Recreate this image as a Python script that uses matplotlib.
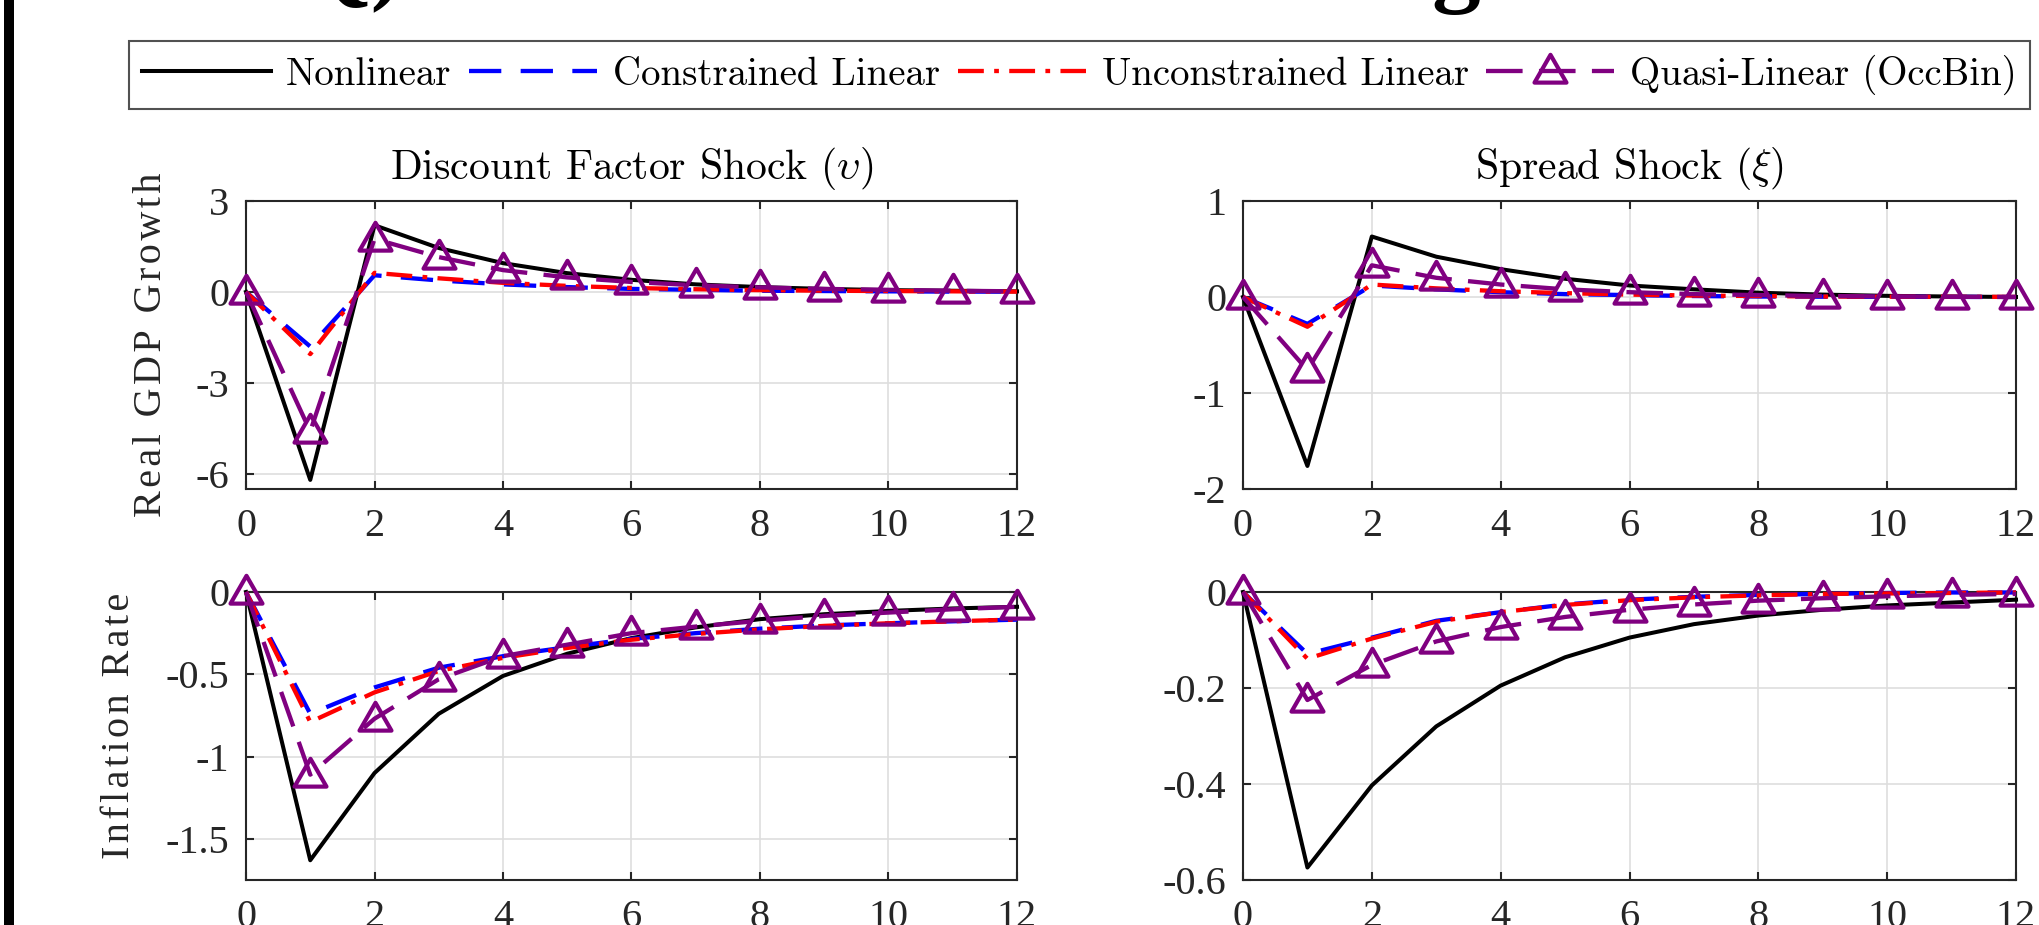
import matplotlib
matplotlib.use('Agg')
import matplotlib.pyplot as plt
from matplotlib.patches import Rectangle
from matplotlib.path import Path
from matplotlib.lines import Line2D

# ---------------- data ----------------
periods = list(range(13))

series_names = ["Nonlinear", "Constrained Linear", "Unconstrained Linear", "Quasi-Linear (OccBin)"]

col_titles = [r"Discount Factor Shock ($\upsilon$)", r"Spread Shock ($\xi$)"]
row_labels = ["Real GDP Growth", "Inflation Rate"]

# Real GDP growth, discount factor shock
nl_gdp_d = [0, -6.2, 2.2, 1.45, 0.95, 0.62, 0.40, 0.25, 0.16, 0.10, 0.06, 0.04, 0.02]
cl_gdp_d = [0, -1.8, 0.55, 0.38, 0.25, 0.16, 0.10, 0.07, 0.04, 0.03, 0.02, 0.01, 0.01]
ul_gdp_d = [0, -2.05, 0.63, 0.45, 0.30, 0.20, 0.13, 0.09, 0.06, 0.04, 0.03, 0.02, 0.01]
ql_gdp_d = [0, -4.6, 1.75, 1.15, 0.72, 0.48, 0.33, 0.22, 0.15, 0.10, 0.07, 0.04, 0.02]

# Real GDP growth, spread shock
nl_gdp_s = [0, -1.76, 0.63, 0.42, 0.29, 0.19, 0.12, 0.08, 0.045, 0.025, 0.012, 0.005, 0.0]
cl_gdp_s = [0, -0.28, 0.12, 0.08, 0.05, 0.03, 0.02, 0.01, 0.005, 0.003, 0.002, 0.001, 0.0]
ul_gdp_s = [0, -0.31, 0.13, 0.09, 0.06, 0.04, 0.025, 0.015, 0.01, 0.005, 0.003, 0.002, 0.001]
ql_gdp_s = [0, -0.76, 0.33, 0.20, 0.13, 0.08, 0.05, 0.03, 0.02, 0.01, 0.005, 0.002, 0.0]

# Inflation, discount factor shock
nl_inf_d = [0, -1.63, -1.10, -0.74, -0.51, -0.375, -0.28, -0.215, -0.165, -0.135, -0.115, -0.10, -0.09]
cl_inf_d = [0, -0.74, -0.58, -0.46, -0.39, -0.335, -0.285, -0.25, -0.223, -0.203, -0.19, -0.178, -0.168]
ul_inf_d = [0, -0.79, -0.61, -0.48, -0.40, -0.34, -0.29, -0.255, -0.227, -0.206, -0.19, -0.178, -0.167]
ql_inf_d = [0, -1.11, -0.77, -0.53, -0.39, -0.32, -0.25, -0.21, -0.175, -0.145, -0.125, -0.105, -0.09]

# Inflation, spread shock
nl_inf_s = [0, -0.574, -0.403, -0.28, -0.195, -0.136, -0.095, -0.067, -0.049, -0.037, -0.028, -0.022, -0.016]
cl_inf_s = [0, -0.129, -0.095, -0.06, -0.042, -0.026, -0.016, -0.01, -0.006, -0.004, -0.002, -0.001, -0.001]
ul_inf_s = [0, -0.139, -0.097, -0.062, -0.042, -0.027, -0.017, -0.011, -0.007, -0.004, -0.003, -0.002, -0.001]
ql_inf_s = [0, -0.225, -0.152, -0.103, -0.073, -0.052, -0.037, -0.026, -0.018, -0.013, -0.009, -0.006, -0.004]

x_ticks = [0, 2, 4, 6, 8, 10, 12]
y_ticks = {
    (0, 0): ([-6, -3, 0, 3], ["-6", "-3", "0", "3"], (-6.5, 3)),
    (0, 1): ([-2, -1, 0, 1], ["-2", "-1", "0", "1"], (-2, 1)),
    (1, 0): ([-1.5, -1, -0.5, 0], ["-1.5", "-1", "-0.5", "0"], (-1.75, 0)),
    (1, 1): ([-0.6, -0.4, -0.2, 0], ["-0.6", "-0.4", "-0.2", "0"], (-0.6, 0)),
}
panel_data = {
    (0, 0): (nl_gdp_d, cl_gdp_d, ul_gdp_d, ql_gdp_d),
    (0, 1): (nl_gdp_s, cl_gdp_s, ul_gdp_s, ql_gdp_s),
    (1, 0): (nl_inf_d, cl_inf_d, ul_inf_d, ql_inf_d),
    (1, 1): (nl_inf_s, cl_inf_s, ul_inf_s, ql_inf_s),
}

# ---------------- style ----------------
plt.rcParams['mathtext.fontset'] = 'cm'
plt.rcParams['axes.unicode_minus'] = False
plt.rcParams['font.family'] = ['Liberation Serif', 'DejaVu Serif']

W, H = 2039, 925
fig = plt.figure(figsize=(W / 100, H / 100), dpi=100)

def rect(l, t, r, b):
    return [l / W, 1 - b / H, (r - l) / W, (b - t) / H]

positions = {
    (0, 0): rect(246, 201, 1017, 489),
    (0, 1): rect(1243, 201, 2016, 489),
    (1, 0): rect(246, 592, 1017, 880),
    (1, 1): rect(1243, 592, 2016, 880),
}

DARK = '#262626'
PURPLE = '#800080'
tri = Path([(0, 0.6), (-0.575, -0.4), (0.575, -0.4), (0, 0.6)], closed=True)

styles = [
    dict(color='black', lw=2.9, ls='-'),
    dict(color='#0000ff', lw=3.1, dashes=(7.5, 4.5)),
    dict(color='#ff0000', lw=3.1, dashes=(6, 2.4, 1.1, 2.4)),
    dict(color=PURPLE, lw=3.1, dashes=(8.5, 3.8), marker=tri, markersize=24,
         markerfacecolor='none', markeredgecolor=PURPLE, markeredgewidth=3.0),
]

label_x = {0: -0.0986, 1: -0.140}
label_y = {0: 0.5, 1: 0.535}

for (r, c), pos in positions.items():
    ax = fig.add_axes(pos)
    for data, st in zip(panel_data[(r, c)], styles):
        ax.plot(periods, data, clip_on=False, zorder=3, **st)
    yt, ytl, yl = y_ticks[(r, c)]
    ax.set_xlim(0, 12)
    ax.set_ylim(*yl)
    ax.set_xticks(x_ticks)
    ax.set_xticklabels([str(v) for v in x_ticks])
    ax.set_yticks(yt)
    ax.set_yticklabels(ytl)
    ax.grid(True, color='#dedede', lw=1.2)
    ax.set_axisbelow(True)
    for s in ax.spines.values():
        s.set_color(DARK)
        s.set_linewidth(1.5)
    ax.tick_params(direction='in', length=5.8, width=1.5, top=True, right=True,
                   labelsize=29, colors=DARK, labelcolor=DARK)
    ax.tick_params(axis='x', pad=14)
    ax.tick_params(axis='y', pad=12)
    if r == 0:
        ax.set_title(col_titles[c], fontsize=30, fontfamily='cmr10', pad=16)
    if c == 0:
        lab = '\u200a'.join(row_labels[r])
        ax.set_ylabel(lab, fontsize=29, color=DARK)
        ax.yaxis.set_label_coords(label_x[r], label_y[r])

# legend
handles = [Line2D([], [], **st) for st in styles]
leg = fig.legend(handles, series_names, loc='center', bbox_to_anchor=(1079.5 / W, 1 - 75 / H),
                 ncol=4, frameon=True, fancybox=False, edgecolor=DARK,
                 prop={'family': 'cmr10', 'size': 28}, handlelength=3.3, handletextpad=0.4,
                 columnspacing=0.45, borderpad=0.35, borderaxespad=0, numpoints=1)
leg.get_frame().set_linewidth(1.5)

# left black bar and clipped title fragments
fig.add_artist(Rectangle((4 / W, 0), 10 / W, 1, transform=fig.transFigure,
                         facecolor='black', edgecolor='none'))
fig.text(403 / W, 1 + 8 / H, "Q)", fontsize=70, fontweight='bold', ha='right', va='baseline')
fig.text(1456 / W, 1 + 6 / H, "g", fontsize=70, fontweight='bold', ha='center', va='baseline')

fig.savefig('out.png', dpi=100)
